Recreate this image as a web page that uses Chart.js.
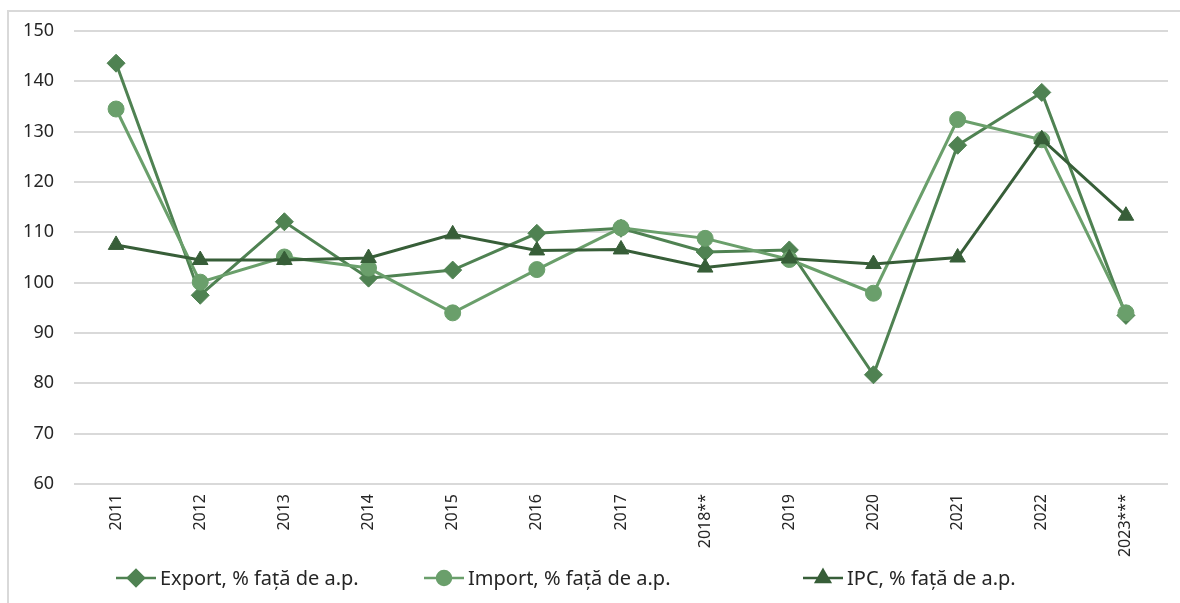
<!DOCTYPE html>
<html>
<head>
<meta charset="utf-8">
<script src="https://cdn.jsdelivr.net/npm/chart.js@4"></script>
<style>
    html, body { margin: 0; padding: 0; background: #fff; }
    #wrap { position: relative; width: 1180px; height: 603px; overflow: hidden; }
    #frame {
        position: absolute; left: 7px; top: 10px; width: 1200px; height: 620px;
        border-left: 2px solid #d9d9d9; border-top: 2px solid #d9d9d9;
        pointer-events: none;
    }
    canvas { position: absolute; left: 0; top: 0; }
</style>
</head>
<body>
<div id="wrap">
    <canvas id="chart" width="1180" height="603"></canvas>
    <div id="frame"></div>
</div>
<script>
// --- DATA ---
const years = ['2011', '2012', '2013', '2014', '2015', '2016', '2017', '2018**', '2019', '2020', '2021', '2022', '2023***'];
const exportValues = [143.6, 97.5, 112.1, 100.9, 102.5, 109.8, 110.8, 106.1, 106.5, 81.7, 127.3, 137.8, 93.5];
const importValues = [134.5, 100.1, 105.1, 102.9, 94.0, 102.6, 110.9, 108.8, 104.6, 97.9, 132.4, 128.4, 94.0];
const ipcValues = [107.5, 104.5, 104.5, 104.9, 109.6, 106.4, 106.6, 103.0, 104.8, 103.7, 105.0, 128.5, 113.3];
const yTicks = [60, 70, 80, 90, 100, 110, 120, 130, 140, 150];

const seriesNames = ['Export, % față de a.p.', 'Import, % față de a.p.', 'IPC, % față de a.p.'];
const colors = ['#4f8252', '#6a9f6b', '#375e38'];
const FONT = "'Noto Sans', 'DejaVu Sans', sans-serif";

// --- LEGEND (line + marker, like the office chart) ---
const legendPlugin = {
    id: 'lineLegend',
    afterDraw(chart) {
        const ctx = chart.ctx;
        const starts = [116, 424, 803];
        const y = 578;
        ctx.save();
        chart.data.datasets.forEach((ds, i) => {
            const x0 = starts[i];
            ctx.strokeStyle = ds.borderColor;
            ctx.lineWidth = 2.5;
            ctx.beginPath();
            ctx.moveTo(x0, y);
            ctx.lineTo(x0 + 40, y);
            ctx.stroke();
            Chart.helpers.drawPoint(ctx, {
                pointStyle: ds.pointStyle,
                radius: ds.pointRadius - 1,
                rotation: 0,
                borderWidth: 1,
            }, x0 + 20, y);
            ctx.fillStyle = ds.pointBackgroundColor;
            ctx.strokeStyle = ds.pointBorderColor;
            ctx.fill();
            ctx.fillStyle = '#262626';
            ctx.font = `20px ${FONT}`;
            ctx.textBaseline = 'middle';
            ctx.textAlign = 'left';
            ctx.fillText(ds.label, x0 + 44, y + 1);
        });
        ctx.restore();
    },
};

function makeDataset(i, values, style, radius) {
    return {
        label: seriesNames[i],
        data: values,
        borderColor: colors[i],
        backgroundColor: colors[i],
        pointBackgroundColor: colors[i],
        pointBorderColor: colors[i],
        borderWidth: 3,
        pointStyle: style,
        pointRadius: radius,
        pointHoverRadius: radius,
        pointBorderWidth: 1,
        tension: 0,
        fill: false,
        order: 3 - i,
    };
}

const ctx = document.getElementById('chart').getContext('2d');
new Chart(ctx, {
    type: 'line',
    data: {
        labels: years,
        datasets: [
            makeDataset(0, exportValues, 'rectRot', 9),
            makeDataset(1, importValues, 'circle', 8),
            makeDataset(2, ipcValues, 'triangle', 9),
        ],
    },
    options: {
        responsive: false,
        animation: false,
        layout: { padding: { left: 0, top: 31, right: 12, bottom: 0 } },
        plugins: {
            legend: { display: false },
            tooltip: { enabled: false },
        },
        scales: {
            x: {
                offset: true,
                grid: { display: false, drawTicks: false },
                border: { display: false },
                ticks: {
                    color: '#262626',
                    font: { family: FONT, size: 16 },
                    minRotation: 90,
                    maxRotation: 90,
                    padding: 10,
                    autoSkip: false,
                },
                afterFit(scale) { scale.height = 119; },
            },
            y: {
                min: 60,
                max: 150,
                afterBuildTicks(scale) {
                    scale.ticks = yTicks.map((v) => ({ value: v }));
                },
                grid: { color: '#d9d9d9', lineWidth: 2, drawTicks: false },
                border: { display: false },
                ticks: {
                    color: '#262626',
                    font: { family: FONT, size: 18 },
                    padding: 20,
                },
                afterFit(scale) { scale.width = 74; },
            },
        },
    },
    plugins: [legendPlugin],
});
</script>
</body>
</html>
